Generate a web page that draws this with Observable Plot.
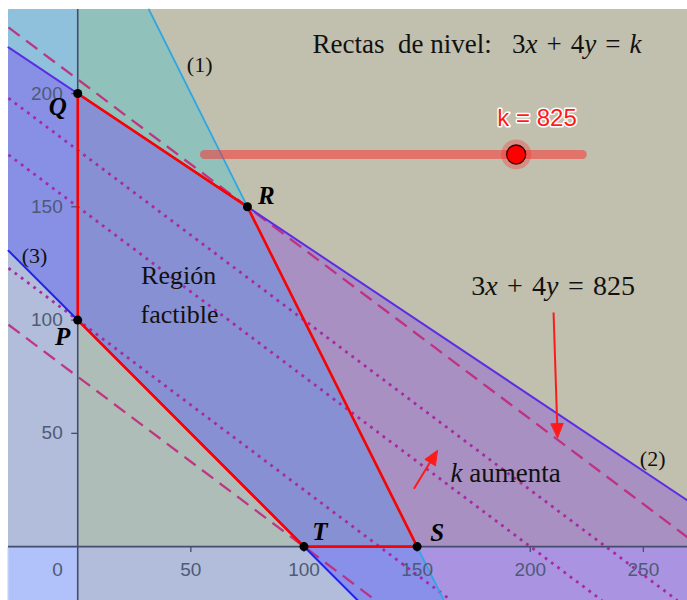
<!DOCTYPE html>
<html><head><meta charset="utf-8">
<script src="https://cdn.jsdelivr.net/npm/d3@7"></script>
<script src="https://cdn.jsdelivr.net/npm/@observablehq/plot@0.6"></script>
<style>body{margin:0;background:#fff;overflow:hidden}svg{display:block}</style>
</head><body><div id="chart"></div>
<script>
// ---------- data ----------
// constraints a*x + b*y (sense) c : (1), (2), (3), y>=0, x>=0
const constraintNames = ["(1)", "(2)", "(3)", "y≥0", "x≥0"];
const constraintA = [2, 2, 1, 0, 1];
const constraintB = [1, 3, 1, 1, 0];
const constraintC = [300, 600, 100, 0, 0];
const constraintSense = ["<=", "<=", ">=", ">=", ">="];
// objective 3x + 4y = k
const objectiveA = 3;
const objectiveB = 4;
const levelK = [300, 400, 600, 700, 825];
const levelKind = ["dashed", "dotted", "dotted", "dotted", "dashed"];
// feasible region vertices
const vertexNames = ["Q", "R", "S", "T", "P"];
const vertexX = [0, 75, 150, 100, 0];
const vertexY = [200, 150, 0, 0, 100];
// axis ticks
const xTicks = [50, 100, 150, 200, 250];
const yTicks = [50, 100, 150, 200];
const originLabel = "0";
// slider
const sliderMin = 0;
const sliderMax = 1000;
const kValue = 825;
// texts
const SP = "\u2004";
const titleText = "Rectas\u00a0\u00a0de nivel:\u00a0\u00a0 3x" + SP + "+" + SP + "4y" + SP + "=" + SP + "k";
const regionText = ["Región", "factible"];
const levelText = "3x" + SP + "+" + SP + "4y" + SP + "=" + SP + kValue;
const increaseText = "k aumenta";

// ---------- layout / style ----------
const W = 687, H = 600, mT = 9, mL = 8;
const xDom = [-30.6, 269.5], yDom = [-23.8, 237.1];
const kx = (W - mL) / (xDom[1] - xDom[0]);
const ky = (H - mT) / (yDom[1] - yDom[0]);
const cellColor = {
  "10110": "#8fc0dc", "10111": "#91c1bb", "00111": "#c1bfad",
  "11110": "#8890e6", "11111": "#8790d2", "01111": "#a890c2",
  "01101": "#aa94e2", "11101": "#8890ea", "11010": "#b1bdda",
  "11000": "#b1c1f9", "11001": "#b1bdda", "11011": "#afbdb9"
};
const lineColor = ["#2ea6e6", "#5b2ee6", "#2222ee"];
const axisColor = "#454d6e";
const tickColor = "#4e5a78";
const serif = "Liberation Serif, Times New Roman, serif";
const sans = "Liberation Sans, Arial, sans-serif";
const sliderLayout = {x0: 56, x1: 223, y: 173.1};
const vertexLabelOffset = {Q: [-20, 21], R: [19, -3], S: [20, -6], T: [16, -7], P: [-15, 25]};
const arrowLayout = [
  {x1: 210.3, y1: 103.3, x2: 212.1, y2: 48.1},
  {x1: 148.6, y1: 25.5, x2: 158.9, y2: 42.4}
];

// ---------- geometry helpers ----------
function clip(poly, a, b, c) {
  const out = [];
  for (let i = 0; i < poly.length; i++) {
    const P = poly[i], Q = poly[(i + 1) % poly.length];
    const fp = a * P[0] + b * P[1] - c, fq = a * Q[0] + b * Q[1] - c;
    if (fp <= 0) out.push(P);
    if ((fp < 0 && fq > 0) || (fp > 0 && fq < 0)) {
      const t = fp / (fp - fq);
      out.push([P[0] + t * (Q[0] - P[0]), P[1] + t * (Q[1] - P[1])]);
    }
  }
  return out;
}
function area(poly) {
  let s = 0;
  for (let i = 0; i < poly.length; i++) {
    const P = poly[i], Q = poly[(i + 1) % poly.length];
    s += P[0] * Q[1] - Q[0] * P[1];
  }
  return Math.abs(s) / 2;
}
function halfPlane(i, satisfied) {
  const a = constraintA[i], b = constraintB[i], c = constraintC[i];
  let le = constraintSense[i] === "<=";
  if (!satisfied) le = !le;
  return le ? [a, b, c] : [-a, -b, -c];
}
function seg(a, b, c) {
  const pts = [];
  const eps = 1e-9;
  if (b !== 0) for (const x of xDom) { const y = (c - a * x) / b; if (y >= yDom[0] - eps && y <= yDom[1] + eps) pts.push({x, y}); }
  if (a !== 0) for (const y of yDom) { const x = (c - b * y) / a; if (x >= xDom[0] - eps && x <= xDom[1] + eps) pts.push({x, y}); }
  pts.sort((p, q) => p.x - q.x);
  return [pts[0], pts[pts.length - 1]];
}

const rect = [[xDom[0], yDom[0]], [xDom[1], yDom[0]], [xDom[1], yDom[1]], [xDom[0], yDom[1]]];
const cells = [];
for (let m = 0; m < 32; m++) {
  let poly = rect, key = "";
  for (let i = 0; i < 5; i++) {
    const s = (m >> (4 - i)) & 1;
    key += s;
    const [a, b, c] = halfPlane(i, s === 1);
    poly = clip(poly, a, b, c);
    if (poly.length < 3) break;
  }
  if (key.length === 5 && poly.length >= 3 && area(poly) > 1e-6) cells.push({key, poly});
}

const vertices = vertexNames.map((name, i) => ({name, x: vertexX[i], y: vertexY[i]}));

const marks = [];
// region cells
for (const c of cells) {
  const col = cellColor[c.key] || "#c8c8c8";
  marks.push(Plot.line(c.poly.map(([x, y]) => ({x, y})), {x: "x", y: "y", curve: "linear-closed", fill: col, stroke: col, strokeWidth: 1}));
}
// level lines
levelK.forEach((k, j) => {
  const dashed = levelKind[j] === "dashed";
  marks.push(Plot.line(seg(objectiveA, objectiveB, k), {
    x: "x", y: "y",
    stroke: dashed ? "#c0287a" : "#a82aa0",
    strokeOpacity: dashed ? 0.9 : 1,
    strokeWidth: dashed ? 2.3 : 2.8,
    strokeDasharray: dashed ? "14,8" : "2.8,5",
    strokeLinecap: "butt"
  }));
});
// constraint lines (1),(2),(3)
for (let i = 0; i < 3; i++) {
  marks.push(Plot.line(seg(constraintA[i], constraintB[i], constraintC[i]), {x: "x", y: "y", stroke: lineColor[i], strokeWidth: i === 0 ? 1.7 : 2}));
}
// axes
marks.push(Plot.ruleY([0], {y: d => d, stroke: axisColor, strokeWidth: 1.6}));
marks.push(Plot.ruleX([0], {x: d => d, stroke: axisColor, strokeWidth: 1.6}));
marks.push(Plot.ruleX(xTicks, {x: d => d, y1: () => 0, y2: () => -6 / ky, stroke: axisColor, strokeWidth: 1.3}));
marks.push(Plot.ruleY(yTicks, {y: d => d, x1: () => -6 / kx, x2: () => 0, stroke: axisColor, strokeWidth: 1.3}));
marks.push(Plot.text(xTicks, {x: d => d, y: () => 0, text: d => String(d), dy: 29, lineAnchor: "bottom", fontSize: 19, fontFamily: sans, fill: tickColor}));
marks.push(Plot.text(yTicks, {x: () => 0, y: d => d, text: d => String(d), dx: -15, textAnchor: "end", lineAnchor: "middle", fontSize: 19, fontFamily: sans, fill: tickColor}));
marks.push(Plot.text([originLabel], {x: () => 0, y: () => 0, text: d => d, dx: -15, dy: 29, textAnchor: "end", lineAnchor: "bottom", fontSize: 19, fontFamily: sans, fill: tickColor}));
// feasible region border
marks.push(Plot.line(vertices, {x: "x", y: "y", curve: "linear-closed", stroke: "#ff0000", strokeWidth: 2.6}));
// arrows
for (const a of arrowLayout) {
  const dxp = (a.x2 - a.x1) * kx, dyp = (a.y2 - a.y1) * ky;
  const len = Math.hypot(dxp, dyp), ux = dxp / len, uy = dyp / len;
  const L = 14, w = 6;
  const bx = -L * ux, by = -L * uy;
  const head = [
    {x: a.x2, y: a.y2},
    {x: a.x2 + (bx - w * uy) / kx, y: a.y2 + (by + w * ux) / ky},
    {x: a.x2 + (bx + w * uy) / kx, y: a.y2 + (by - w * ux) / ky}
  ];
  marks.push(Plot.link([a], {x1: "x1", y1: "y1", x2: d => d.x2 + (bx + 2 * ux) / kx, y2: d => d.y2 + (by + 2 * uy) / ky, stroke: "#ff1a1a", strokeWidth: 2}));
  marks.push(Plot.line(head, {x: "x", y: "y", curve: "linear-closed", fill: "#ff1a1a", stroke: "#ff1a1a", strokeWidth: 1}));
}
// slider
const hx = sliderLayout.x0 + (kValue - sliderMin) / (sliderMax - sliderMin) * (sliderLayout.x1 - sliderLayout.x0);
marks.push(Plot.link([0], {x1: () => sliderLayout.x0, x2: () => sliderLayout.x1, y1: () => sliderLayout.y, y2: () => sliderLayout.y, stroke: "#ff2a2a", strokeOpacity: 0.5, strokeWidth: 9, strokeLinecap: "round"}));
marks.push(Plot.dot([0], {x: () => hx, y: () => sliderLayout.y, r: 15, fill: "#ff2020", fillOpacity: 0.3}));
marks.push(Plot.dot([0], {x: () => hx, y: () => sliderLayout.y, r: 9.5, fill: "#ff0000", stroke: "#3a0000", strokeWidth: 1.3}));
marks.push(Plot.text(["k = " + kValue], {x: () => 203.0, y: () => 185.5, text: d => d, lineAnchor: "bottom", fontSize: 24, fontFamily: sans, fill: "#ff1a1a", stroke: "white", strokeWidth: 3, paintOrder: "stroke"}));
// vertices
marks.push(Plot.dot(vertices, {x: "x", y: "y", r: 4.5, fill: "black"}));
for (const v of vertices) {
  const [dx, dy] = vertexLabelOffset[v.name];
  marks.push(Plot.text([v], {x: "x", y: "y", text: "name", dx, dy, lineAnchor: "bottom", fontSize: 25, fontWeight: "bold", fontStyle: "italic", fontFamily: serif, fill: "#000"}));
}
// annotations
function note(text, x, y, opts) {
  return Plot.text([text], Object.assign({x: () => x, y: () => y, text: d => d, lineAnchor: "bottom", fontFamily: serif, fill: "#111"}, opts));
}
marks.push(note(titleText, 103.8, 218.1, {textAnchor: "start", fontSize: 27}));
marks.push(note(constraintNames[0], 53.9, 209.7, {fontSize: 22}));
marks.push(note(constraintNames[1], 254.1, 35.4, {fontSize: 22}));
marks.push(note(constraintNames[2], -19.1, 125.0, {fontSize: 22}));
marks.push(note(regionText[0], 44.6, 116.1, {fontSize: 26}));
marks.push(note(regionText[1], 45.0, 98.5, {fontSize: 26}));
marks.push(note(levelText, 210.1, 110.9, {fontSize: 28}));
marks.push(note(increaseText, 189.1, 28.3, {fontSize: 27}));

const svg = Plot.plot({
  width: W, height: H,
  marginTop: mT, marginLeft: mL, marginRight: 0, marginBottom: 0,
  x: {domain: xDom, axis: null},
  y: {domain: yDom, axis: null},
  style: {background: "white"},
  marks
});

// italic math letters
const NS = "http://www.w3.org/2000/svg";
svg.querySelectorAll("text").forEach(t => {
  const s = t.textContent;
  if (!(s.includes("3x") || s === increaseText)) return;
  t.textContent = "";
  for (const part of s.split(/([xyk])/)) {
    if (!part) continue;
    const sp = document.createElementNS(NS, "tspan");
    sp.textContent = part;
    if (/^[xyk]$/.test(part)) sp.setAttribute("font-style", "italic");
    t.appendChild(sp);
  }
});
document.getElementById("chart").appendChild(svg);
</script>
</body></html>
